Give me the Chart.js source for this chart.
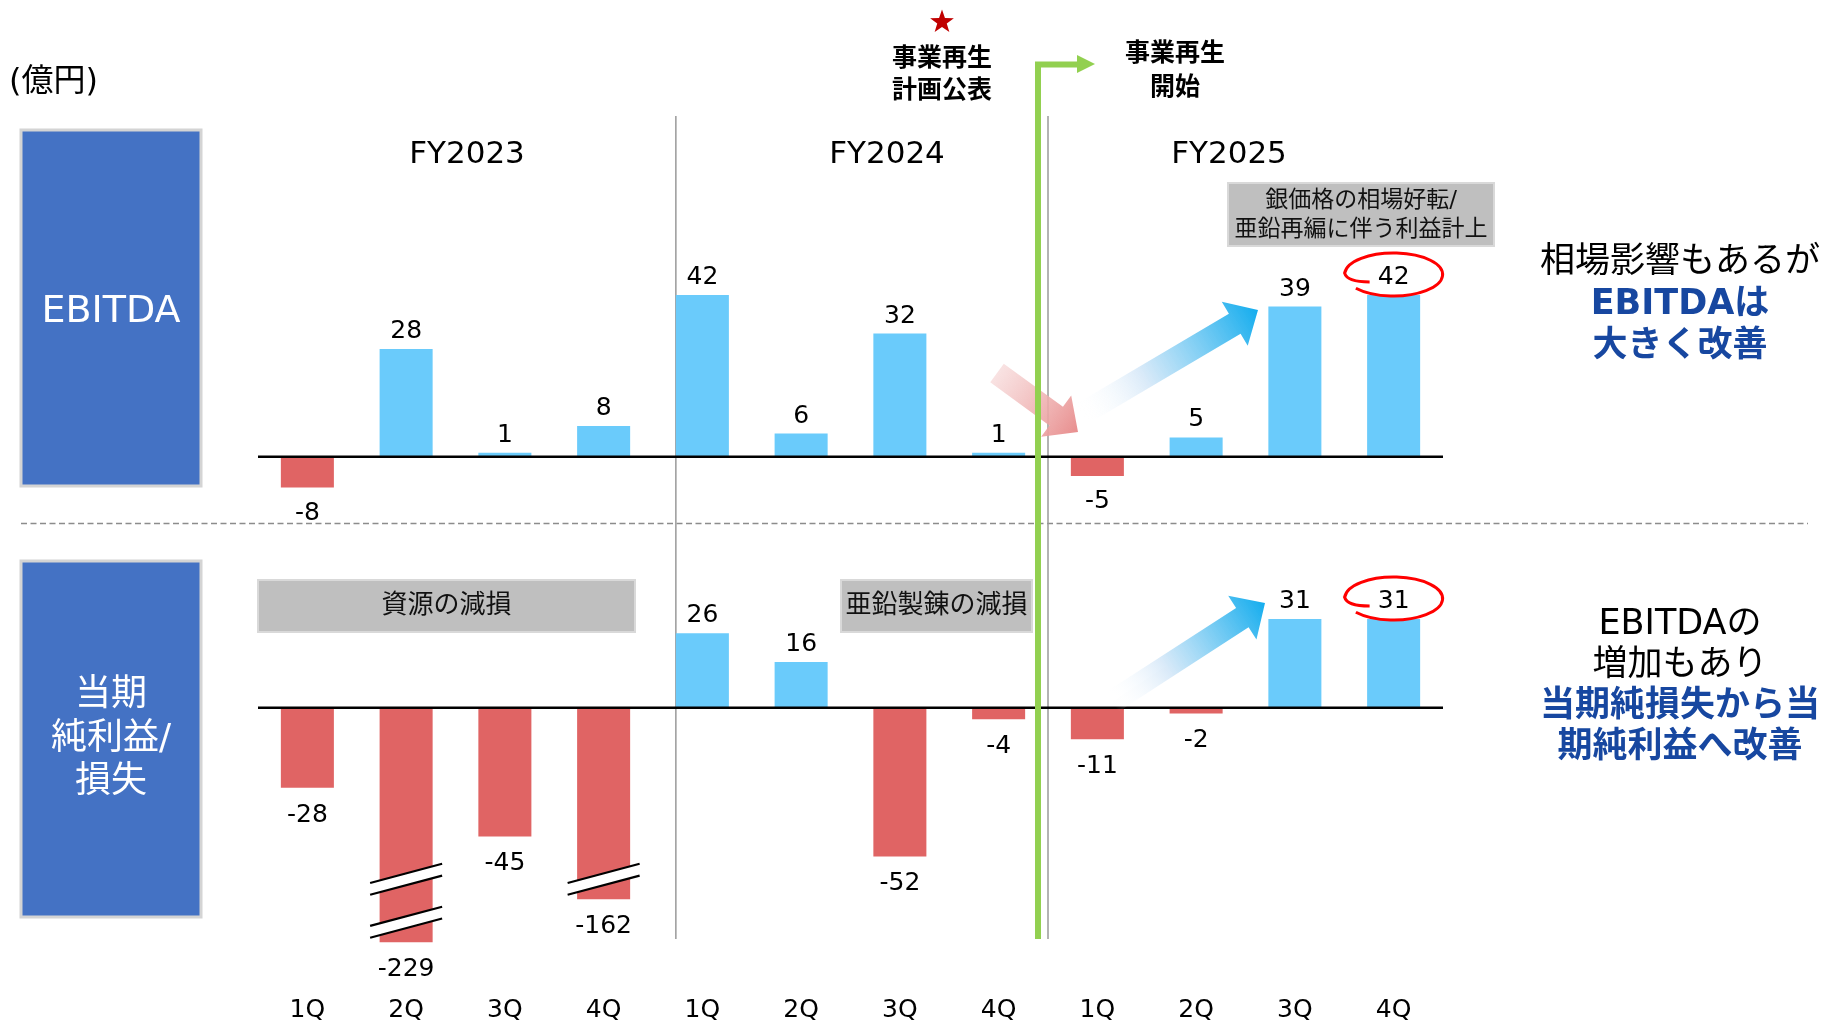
<!DOCTYPE html>
<html>
<head>
<meta charset="utf-8">
<script src="https://cdn.jsdelivr.net/npm/chart.js"></script>
<style>
  html, body { margin: 0; padding: 0; background: #ffffff; overflow: hidden; }
  #wrap { position: relative; width: 1823px; height: 1022px; }
</style>
</head>
<body>
<div id="wrap"><canvas id="c"></canvas></div>
<script>
// ---------------- data ----------------
const quarters = ['1Q', '2Q', '3Q', '4Q', '1Q', '2Q', '3Q', '4Q', '1Q', '2Q', '3Q', '4Q'];
const fiscalYears = ['FY2023', 'FY2024', 'FY2025'];
const ebitda = [-8, 28, 1, 8, 42, 6, 32, 1, -5, 5, 39, 42];
const netIncome = [-28, -229, -45, -162, 26, 16, -52, -4, -11, -2, 31, 31];
// bars cut by an axis break: value at which the drawn bar stops
const netIncomeBrokenAt = [null, -82, null, -67, null, null, null, null, null, null, null, null];
// axis-break marks: [category index, value on net income axis]
const breakMarks = [[1, -60], [1, -75], [3, -60]];
// highlighted (circled) points
const circled = [11];

const unitLabel = '(億円)';
const ebitdaTitle = 'EBITDA';
const netIncomeTitle = ['当期', '純利益/', '損失'];
const planLabel = ['事業再生', '計画公表'];
const startLabel = ['事業再生', '開始'];
const noteResources = '資源の減損';
const noteZinc = '亜鉛製錬の減損';
const noteSilver = ['銀価格の相場好転/', '亜鉛再編に伴う利益計上'];
const commentEbitda = [['相場影響もあるが', false], ['EBITDAは', true], ['大きく改善', true]];
const commentNet = [['EBITDAの', false], ['増加もあり', false], ['当期純損失から当', true], ['期純利益へ改善', true]];

// ---------------- style ----------------
const POS = '#6ACBFB';
const NEG = '#E06464';
const FAM = '"DejaVu Sans", "Noto Sans CJK JP", sans-serif';
const F = (s, b) => (b ? 'bold ' : '') + s + 'px ' + FAM;
// vertical placement of the two value axes: pixel of zero and pixels per 億円
const axisPlacement = { yE: { zero: 456.7, ppu: 3.85 }, yN: { zero: 707.7, ppu: 2.86 } };

function txt(c, s, x, y, font, color, align) {
  c.font = font; c.fillStyle = color; c.textAlign = align || 'center'; c.textBaseline = 'middle';
  c.fillText(s, x, y);
}
function rect(c, x, y, w, h, fill, stroke, lw) {
  c.fillStyle = fill; c.fillRect(x, y, w, h);
  if (stroke) { c.strokeStyle = stroke; c.lineWidth = lw; c.strokeRect(x, y, w, h); }
}
function arrow(c, x0, y0, x1, y1, sw, hw, hl, stops) {
  const L = Math.hypot(x1 - x0, y1 - y0), ux = (x1 - x0) / L, uy = (y1 - y0) / L, nx = -uy, ny = ux;
  const bx = x1 - ux * hl, by = y1 - uy * hl;
  const g = c.createLinearGradient(x0, y0, x1, y1);
  stops.forEach(s => g.addColorStop(s[0], s[1]));
  c.beginPath();
  c.moveTo(x0 + nx * sw / 2, y0 + ny * sw / 2);
  c.lineTo(bx + nx * sw / 2, by + ny * sw / 2);
  c.lineTo(bx + nx * hw / 2, by + ny * hw / 2);
  c.lineTo(x1, y1);
  c.lineTo(bx - nx * hw / 2, by - ny * hw / 2);
  c.lineTo(bx - nx * sw / 2, by - ny * sw / 2);
  c.lineTo(x0 - nx * sw / 2, y0 - ny * sw / 2);
  c.closePath();
  c.fillStyle = g; c.fill();
}
function loop(c, cx, cy, rx, ry) {
  c.beginPath();
  c.moveTo(cx - rx * 0.49, cy + ry * 0.35);
  c.quadraticCurveTo(cx - rx * 0.95, cy + ry * 0.35, cx - rx, cy - ry * 0.06);
  c.ellipse(cx, cy, rx, ry, 0, Math.PI * 1.02, Math.PI * 2.78);
  c.strokeStyle = '#FF0000'; c.lineWidth = 3; c.stroke();
}
function star(c, cx, cy, r, color) {
  c.beginPath();
  for (let i = 0; i < 10; i++) {
    const a = -Math.PI / 2 + i * Math.PI / 5, rr = i % 2 ? r * 0.4 : r;
    c.lineTo(cx + rr * Math.cos(a), cy + rr * Math.sin(a));
  }
  c.closePath(); c.fillStyle = color; c.fill();
}
function breakMark(c, cx, cy) {
  const hl = 36, k = -0.267, gap = 11.8, d = k * hl;
  c.beginPath();
  c.moveTo(cx - hl, cy - gap / 2 - d); c.lineTo(cx + hl, cy - gap / 2 + d);
  c.lineTo(cx + hl, cy + gap / 2 + d); c.lineTo(cx - hl, cy + gap / 2 - d);
  c.closePath(); c.fillStyle = '#ffffff'; c.fill();
  c.strokeStyle = '#000'; c.lineWidth = 2.2;
  c.beginPath();
  c.moveTo(cx - hl, cy - gap / 2 - d); c.lineTo(cx + hl, cy - gap / 2 + d);
  c.moveTo(cx - hl, cy + gap / 2 - d); c.lineTo(cx + hl, cy + gap / 2 + d);
  c.stroke();
}

const decor = {
  id: 'decor',
  afterLayout(chart) {
    const a = chart.chartArea;
    Object.keys(axisPlacement).forEach(id => {
      const s = chart.scales[id], p = axisPlacement[id];
      s.max = (p.zero - a.top) / p.ppu;
      s.min = -(a.bottom - p.zero) / p.ppu;
      s.configure();
    });
  },
  beforeDatasetsDraw(chart) {
    const c = chart.ctx, xs = chart.scales.x;
    const bars = chart.getDatasetMeta(0).data;
    c.save();
    txt(c, unitLabel, 9, 82.5, F(32), '#000', 'left');
    // left panels
    rect(c, 21, 130, 180, 356, '#4472C4', '#D4D4D4', 3);
    rect(c, 21, 561, 180, 356, '#4472C4', '#D4D4D4', 3);
    txt(c, ebitdaTitle, 111, 312.5, F(38), '#ffffff');
    netIncomeTitle.forEach((s, i) => txt(c, s, 111, 696 + i * 43.5, F(36), '#ffffff'));
    // dashed separator
    c.setLineDash([6, 3.5]); c.strokeStyle = '#8C8C8C'; c.lineWidth = 1.5;
    c.beginPath(); c.moveTo(21, 523.5); c.lineTo(1808, 523.5); c.stroke(); c.setLineDash([]);
    // fiscal-year separators
    const g1 = bars[4].x - bars[4].width / 2;
    const g2 = (xs.getPixelForValue(7) + xs.getPixelForValue(8)) / 2;
    c.strokeStyle = '#9A9A9A'; c.lineWidth = 1.5;
    c.beginPath(); c.moveTo(g1, 116); c.lineTo(g1, 939); c.moveTo(g2, 116); c.lineTo(g2, 939); c.stroke();
    // fiscal-year titles
    [467, 887, 1229].forEach((x, i) => txt(c, fiscalYears[i], x, 154.5, F(31), '#000'));
    // gray notes
    rect(c, 258, 580, 377, 52, '#BFBFBF', '#D9D9D9', 2);
    txt(c, noteResources, 446.5, 606, F(26), '#111');
    rect(c, 841, 580, 191, 52, '#BFBFBF', '#D9D9D9', 2);
    txt(c, noteZinc, 936.5, 606, F(26), '#111');
    rect(c, 1228, 183, 266, 63, '#BFBFBF', '#D9D9D9', 2);
    txt(c, noteSilver[0], 1361, 201, F(23), '#111');
    txt(c, noteSilver[1], 1361, 230, F(23), '#111');
    // top annotations
    star(c, 942, 22, 12.5, '#C00000');
    txt(c, planLabel[0], 942, 59.5, F(25, true), '#000');
    txt(c, planLabel[1], 942, 91.5, F(25, true), '#000');
    txt(c, startLabel[0], 1175, 54.5, F(25, true), '#000');
    txt(c, startLabel[1], 1175, 88.5, F(25, true), '#000');
    // comments
    commentEbitda.forEach((t, i) => txt(c, t[0], 1680, 262.5 + i * 42, F(35, t[1]), t[1] ? '#1747A0' : '#000'));
    commentNet.forEach((t, i) => txt(c, t[0], 1680, 624.5 + i * 41, F(35, t[1]), t[1] ? '#1747A0' : '#000'));
    c.restore();
  },
  afterDatasetsDraw(chart) {
    const c = chart.ctx, a = chart.chartArea, xs = chart.scales.x, yE = chart.scales.yE, yN = chart.scales.yN;
    c.save();
    // zero lines
    c.strokeStyle = '#000'; c.lineWidth = 2.5;
    c.beginPath();
    c.moveTo(a.left, yE.getPixelForValue(0)); c.lineTo(a.right, yE.getPixelForValue(0));
    c.moveTo(a.left, yN.getPixelForValue(0)); c.lineTo(a.right, yN.getPixelForValue(0));
    c.stroke();
    // axis break marks
    breakMarks.forEach(m => breakMark(c, xs.getPixelForValue(m[0]), yN.getPixelForValue(m[1])));
    // value labels
    const series = [ebitda, netIncome];
    series.forEach((vals, d) => {
      const meta = chart.getDatasetMeta(d);
      vals.forEach((v, i) => {
        const el = meta.data[i];
        const below = d === 1 ? 27.5 : 26;
        const y = v >= 0 ? el.y - 17.5 : el.y + below;
        txt(c, String(v), el.x, y, F(25), '#000');
        if (circled.includes(i)) loop(c, el.x, y - 3, 49, 21.5);
      });
    });
    // trend arrows
    const blue = [[0, 'rgba(255,255,255,0)'], [0.35, 'rgba(214,232,248,0.9)'], [1, '#14ADEE']];
    arrow(c, 1082, 414, 1258, 310, 23, 51, 27, blue);
    arrow(c, 1112, 702, 1265, 603, 23, 52, 27, blue);
    arrow(c, 997, 373, 1078, 432, 23, 51, 27, [[0, 'rgba(246,214,214,0.7)'], [1, '#E88E8E']]);
    // restructuring start marker
    const gx = (xs.getPixelForValue(7) + xs.getPixelForValue(8)) / 2 - 10;
    c.strokeStyle = '#92D050'; c.lineWidth = 6;
    c.beginPath(); c.moveTo(gx, 939); c.lineTo(gx, 64.5); c.lineTo(1079, 64.5); c.stroke();
    c.beginPath(); c.moveTo(1077, 55); c.lineTo(1095, 64); c.lineTo(1077, 73); c.closePath();
    c.fillStyle = '#92D050'; c.fill();
    c.restore();
  }
};

const colorsFor = vals => vals.map(v => (v >= 0 ? POS : NEG));

new Chart(document.getElementById('c'), {
  type: 'bar',
  data: {
    labels: quarters,
    datasets: [
      { label: 'EBITDA', data: ebitda, yAxisID: 'yE', backgroundColor: colorsFor(ebitda),
        grouped: false, barPercentage: 0.537, categoryPercentage: 1, borderWidth: 0 },
      { label: '当期純利益/損失', data: netIncome.map((v, i) => netIncomeBrokenAt[i] ?? v), yAxisID: 'yN',
        backgroundColor: colorsFor(netIncome), grouped: false, barPercentage: 0.537, categoryPercentage: 1, borderWidth: 0 }
    ]
  },
  options: {
    responsive: true, maintainAspectRatio: false, animation: false,
    layout: { padding: { left: 258, right: 380, top: 20, bottom: -6 } },
    plugins: { legend: { display: false }, tooltip: { enabled: false } },
    scales: {
      x: { grid: { display: false, drawTicks: false }, border: { display: false },
           ticks: { color: '#000', font: { family: FAM, size: 25 }, padding: 3, maxRotation: 0, autoSkip: false } },
      yE: { display: false, min: -138, max: 113 },
      yN: { display: false, min: -98, max: 240 }
    }
  },
  plugins: [decor]
});
</script>
</body>
</html>
